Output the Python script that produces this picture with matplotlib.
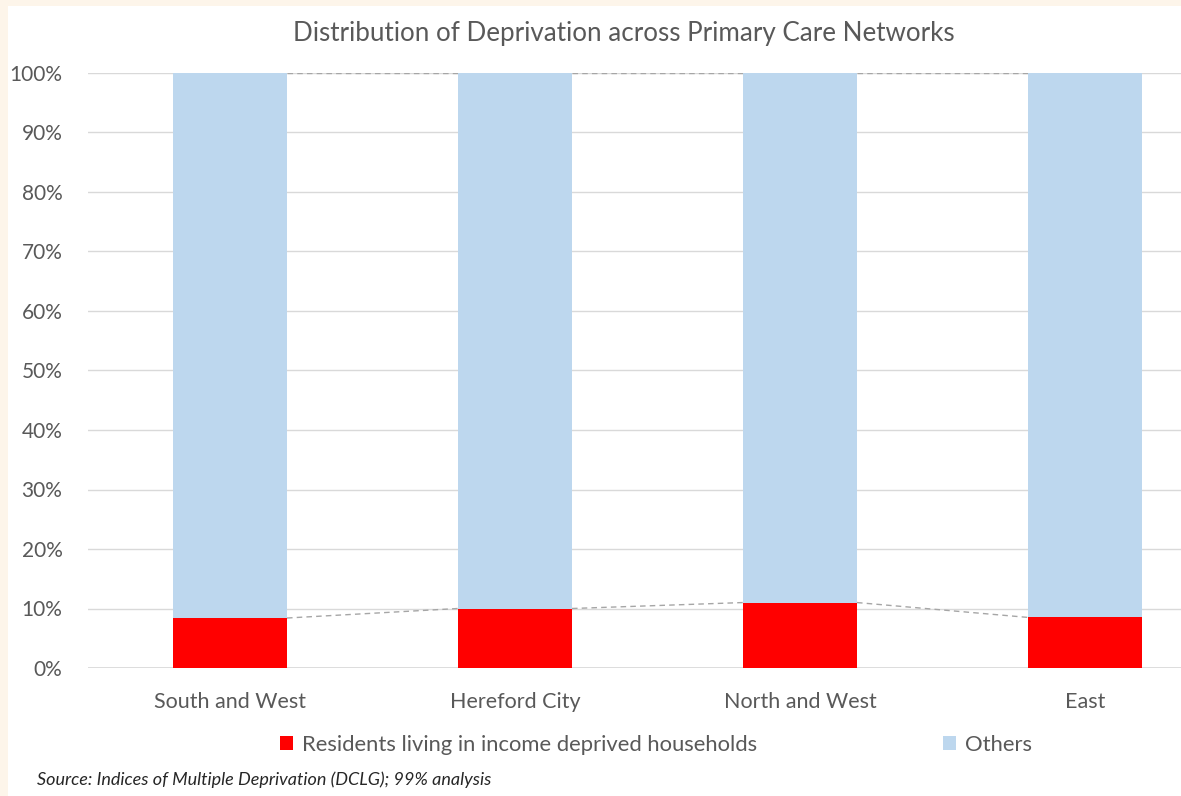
import matplotlib.pyplot as plt
from matplotlib.patches import Rectangle
from matplotlib.ticker import PercentFormatter

plt.rcParams['font.family'] = ['Lato', 'DejaVu Sans']

networks = ["South and West", "Hereford City", "North and West", "East"]
deprived = [8.4, 10.0, 11.0, 8.5]
others = [100 - v for v in deprived]
yticks = list(range(0, 101, 10))

red = "#FF0000"
blue = "#BDD7EE"
grey_text = "#595959"

fig = plt.figure(figsize=(11.81, 7.96), dpi=100)
fig.patch.set_facecolor("#FDF5EA")
# white card behind the chart
fig.patches.append(Rectangle((8 / 1181, 0), 1, 1 - 6 / 796, transform=fig.transFigure,
                             facecolor="white", edgecolor="none", zorder=-10))

W, H = 1181, 796
left, right = 87.5, 1227.5
top, bottom = 73, 668
ax = fig.add_axes([left / W, 1 - bottom / H, (right - left) / W, (bottom - top) / H])
ax.set_facecolor("none")

x = list(range(len(networks)))
bw = 0.4
ax.bar(x, deprived, width=bw, color=red, zorder=3, label="Residents living in income deprived households")
ax.bar(x, others, width=bw, bottom=deprived, color=blue, zorder=3, label="Others")

# series lines between the stacks
tops = [d + o for d, o in zip(deprived, others)]
for i in range(len(x) - 1):
    ax.plot([x[i] + bw / 2, x[i + 1] - bw / 2], [deprived[i], deprived[i + 1]],
            ls=(0, (4, 3)), color="#A6A6A6", lw=1, zorder=2)
    ax.plot([x[i] + bw / 2, x[i + 1] - bw / 2], [tops[i], tops[i + 1]],
            ls=(0, (4, 3)), color="#A6A6A6", lw=1, zorder=2)

ax.set_xlim(-0.5, len(x) - 0.5)
ax.set_ylim(0, 100)
ax.set_yticks(yticks)
ax.yaxis.set_major_formatter(PercentFormatter(decimals=0))
ax.grid(axis="y", color="#D9D9D9", lw=1, zorder=0)
for s in ax.spines.values():
    s.set_visible(False)
ax.axhline(0, color="#D9D9D9", lw=1.2, zorder=1)
ax.tick_params(axis="both", length=0, labelsize=15, labelcolor=grey_text)
ax.tick_params(axis="y", pad=18)
ax.tick_params(axis="x", pad=17)
ax.set_xticks(x)
ax.set_xticklabels(networks, fontsize=15.5)

fig.text(624 / W, 1 - 33 / H, "Distribution of Deprivation across Primary Care Networks",
         ha="center", va="center", fontsize=18.7, color=grey_text)

handles, labels = ax.get_legend_handles_labels()
fig.legend(handles, labels, loc="center", bbox_to_anchor=(656 / W, 1 - 745 / H),
           ncol=2, frameon=False, fontsize=15.8, labelcolor=grey_text,
           handlelength=0.6, handleheight=0.6, handletextpad=0.4, columnspacing=8.45)

fig.text(37 / W, 1 - 780 / H, "Source: Indices of Multiple Deprivation (DCLG); 99% analysis",
         ha="left", va="center", fontsize=13, style="italic", color="#262626")

fig.savefig("out.png", dpi=100, facecolor=fig.get_facecolor())
